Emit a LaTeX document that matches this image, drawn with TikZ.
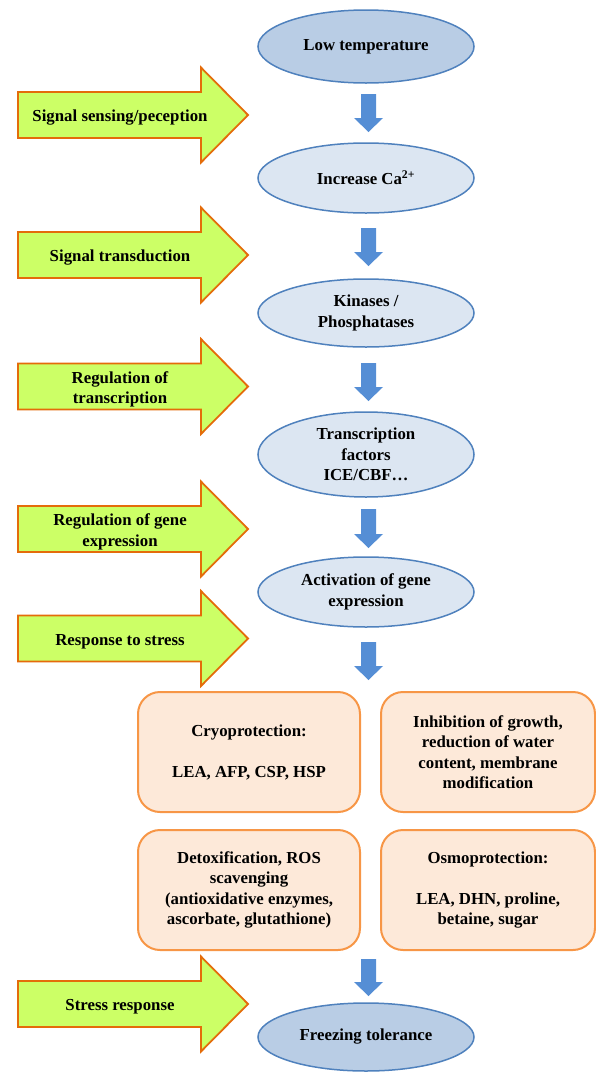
\documentclass[tikz,border=0pt]{standalone}
\usepackage{fontspec}
\setmainfont{Liberation Serif}
\usetikzlibrary{shapes.geometric}
\definecolor{ellborder}{HTML}{4F81BD}
\definecolor{elldark}{HTML}{B9CDE5}
\definecolor{elllight}{HTML}{DCE6F2}
\definecolor{gfill}{HTML}{CCFF66}
\definecolor{gborder}{HTML}{E46C0A}
\definecolor{bfill}{HTML}{558ED5}
\definecolor{ofill}{HTML}{FDE9D9}
\definecolor{oborder}{HTML}{F79646}
\tikzset{
  txt/.style={font=\fontsize{16.8}{20.5}\selectfont\bfseries, align=center, text=black},
  ell/.style={ellipse, draw=ellborder, line width=1.5pt, inner sep=0pt, minimum width=216pt, txt},
  garrowshape/.style={fill=gfill, draw=gborder, line width=1.8pt, line join=miter},
  barrowshape/.style={fill=bfill, draw=none},
  obox/.style={draw=oborder, fill=ofill, line width=2pt, rounded corners=22pt, inner sep=0pt, minimum height=120pt, txt},
}
\newcommand\garrow[3]{%
  \filldraw[garrowshape] (18,#2-23) -- (201,#2-23) -- (201,#2-47.5) -- (248,#2) -- (201,#2+47.5) -- (201,#2+23) -- (18,#2+23) -- cycle;
  \node[txt] (#1) at (120,#2+3) {#3};}
\newcommand\barrow[3]{%
  \coordinate (#1) at (368.5,#2);
  \fill[barrowshape] (361,#2) -- (376,#2) -- (376,#3-14) -- (383,#3-14) -- (368.5,#3) -- (354,#3-14) -- (361,#3-14) -- cycle;}
\begin{document}
\begin{tikzpicture}[x=1pt,y=-1pt]
\useasboundingbox (0,0) rectangle (596,1072);
% ellipses
\node[ell, fill=elldark, minimum height=73pt] (e1) at (366,46.5) {Low temperature};
\node[ell, fill=elllight, minimum height=70pt] (e2) at (366,178) {Increase Ca\textsuperscript{2+}};
\node[ell, fill=elllight, minimum height=68pt] (e3) at (366,313) {Kinases /\\Phosphatases};
\node[ell, fill=elllight, minimum height=85pt] (e4) at (366,454.5) {Transcription\\factors\\ICE/CBF\ldots};
\node[ell, fill=elllight, minimum height=70pt] (e5) at (366,592) {Activation of gene\\expression};
\node[ell, fill=elldark, minimum height=68pt] (e6) at (366,1037) {Freezing tolerance};
% blue arrows
\barrow{a1}{94}{132}
\barrow{a2}{228}{266}
\barrow{a3}{363}{401}
\barrow{a4}{509}{548}
\barrow{a5}{642}{680}
\barrow{a6}{959}{996}
% green arrows
\garrow{g1}{115}{Signal sensing/peception}
\garrow{g2}{255}{Signal transduction}
\garrow{g3}{386.5}{Regulation of\\transcription}
\garrow{g4}{529}{Regulation of gene\\expression}
\garrow{g5}{638.5}{Response to stress}
\garrow{g6}{1004}{Stress response}
% orange boxes
\node[obox, minimum width=222pt] (b1) at (249,752) {Cryoprotection:\\[20.5pt]LEA, AFP, CSP, HSP};
\node[obox, minimum width=214pt] (b2) at (488,752) {Inhibition of growth,\\reduction of water\\content, membrane\\modification};
\node[obox, minimum width=222pt] (b3) at (249,890) {Detoxification, ROS\\scavenging\\(antioxidative enzymes,\\ascorbate, glutathione)};
\node[obox, minimum width=214pt] (b4) at (488,890) {Osmoprotection:\\[20.5pt]LEA, DHN, proline,\\betaine, sugar};
\end{tikzpicture}
\end{document}
